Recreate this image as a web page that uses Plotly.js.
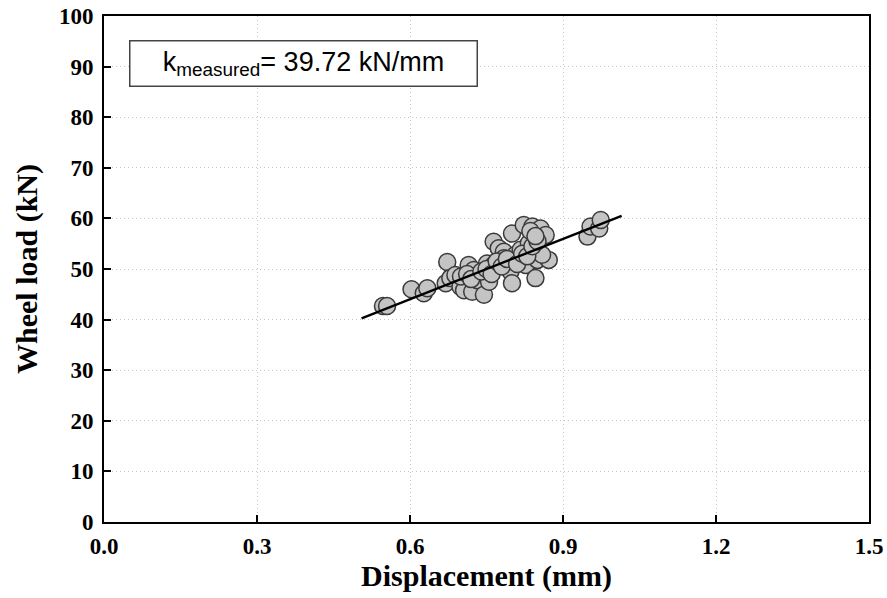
<!DOCTYPE html>
<html>
<head>
<meta charset="utf-8">
<script src="https://cdn.plot.ly/plotly-3.0.1.min.js"></script>
<style>html,body{margin:0;padding:0;background:#fff;}#chart{width:887px;height:598px;}</style>
</head>
<body>
<div id="chart"></div>
<script>
const displacement = [0.547,0.555,0.603,0.627,0.634,0.673,0.670,0.679,0.689,0.699,0.706,0.715,0.722,0.725,0.732,0.745,0.755,0.751,0.764,0.764,0.774,0.784,0.784,0.800,0.797,0.800,0.807,0.817,0.823,0.827,0.833,0.840,0.846,0.850,0.856,0.866,0.872,0.859,0.948,0.954,0.971,0.974,0.700,0.712,0.720,0.740,0.750,0.760,0.770,0.780,0.790,0.810,0.820,0.830,0.840,0.850,0.836,0.846];
const wheelLoad    = [42.7,42.7,46.0,45.2,46.2,51.4,47.2,48.2,48.8,46.5,45.8,50.8,45.5,49.8,47.8,44.9,47.5,51.1,50.8,55.4,54.1,53.4,52.1,57.0,49.5,47.2,52.8,53.8,58.7,50.8,55.1,58.4,48.2,51.8,58.0,56.7,51.8,52.8,56.4,58.4,58.0,59.7,48.5,49.0,48.0,49.5,50.0,49.0,51.5,50.5,52.0,51.0,53.0,52.5,54.5,55.5,57.5,56.5];
const fitX = [0.505, 1.015];
const slope = 39.72;
const intercept = 20.2;
const fitY = fitX.map(x => slope * x + intercept);
const xTicks = [0.0,0.3,0.6,0.9,1.2,1.5];
const xTickText = ['0.0','0.3','0.6','0.9','1.2','1.5'];
const yTicks = [0,10,20,30,40,50,60,70,80,90,100];

const traces = [
  {x: displacement, y: wheelLoad, mode: 'markers', type: 'scatter',
   marker: {size: 17, color: '#c4c4c4', line: {color: '#3a3a3a', width: 1.5}},
   hoverinfo: 'skip'},
  {x: fitX, y: fitY, mode: 'lines', type: 'scatter',
   line: {color: '#000', width: 2.4}, hoverinfo: 'skip'}
];

const serif = 'Liberation Serif, Times New Roman, serif';
const layout = {
  width: 887, height: 598,
  margin: {l: 104, r: 18, t: 16, b: 76},
  paper_bgcolor: '#fff', plot_bgcolor: '#fff',
  showlegend: false,
  xaxis: {
    range: [0, 1.5], tickvals: xTicks, ticktext: xTickText,
    ticks: 'inside', ticklen: 7, tickwidth: 2, tickcolor: '#000',
    showline: true, linecolor: '#000', linewidth: 2, mirror: true,
    showgrid: true, gridcolor: '#c4c4c4', gridwidth: 1, griddash: '1px,3px',
    zeroline: false,
    tickfont: {family: serif, size: 23, color: '#000', weight: 'bold'},
    ticklabelstandoff: 2,
    title: {text: '<b>Displacement (mm)</b>', font: {family: serif, size: 30, color: '#000'}, standoff: 6}
  },
  yaxis: {
    range: [0, 100], tickvals: yTicks,
    ticks: 'inside', ticklen: 7, tickwidth: 2, tickcolor: '#000',
    showline: true, linecolor: '#000', linewidth: 2, mirror: true,
    showgrid: true, gridcolor: '#c4c4c4', gridwidth: 1, griddash: '1px,3px',
    zeroline: false,
    tickfont: {family: serif, size: 23, color: '#000', weight: 'bold'},
    ticklabelstandoff: 4,
    title: {text: '<b>Wheel load (kN)</b>', font: {family: serif, size: 30, color: '#000'}, standoff: 12}
  },
  annotations: [{
    xref: 'paper', yref: 'paper', x: 0.261, y: 0.907,
    xanchor: 'center', yanchor: 'middle',
    text: 'k<sub>measured</sub>= 39.72 kN/mm',
    showarrow: false,
    font: {family: 'Liberation Sans, Arial, sans-serif', size: 27, color: '#000'},
    bordercolor: '#444', borderwidth: 1.5, bgcolor: '#fff',
    width: 344, height: 42
  }]
};
Plotly.newPlot('chart', traces, layout, {displayModeBar: false, staticPlot: true});
</script>
</body>
</html>
